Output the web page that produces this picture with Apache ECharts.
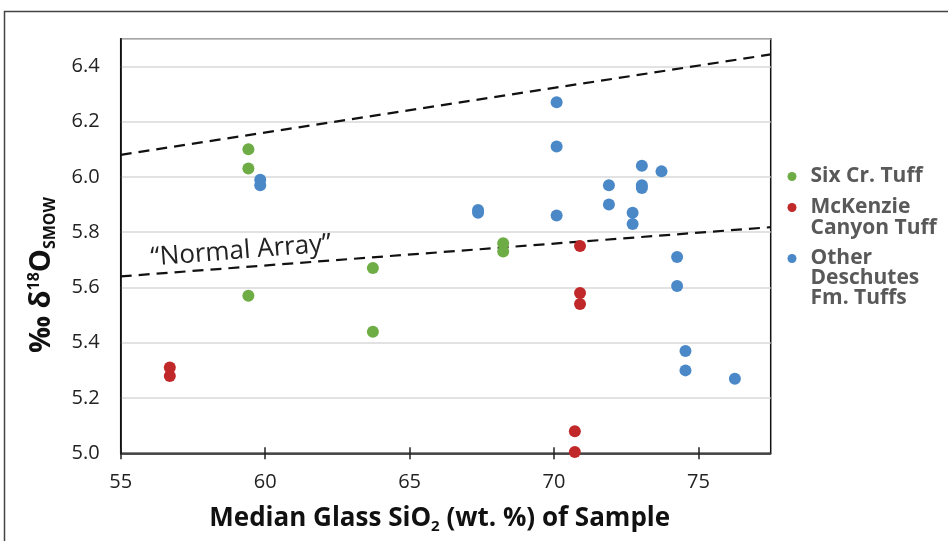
<!DOCTYPE html>
<html>
<head>
<meta charset="utf-8">
<script src="https://cdn.jsdelivr.net/npm/echarts@6/dist/echarts.min.js"></script>
<style>html,body{margin:0;padding:0;background:#fff;}#c{width:948px;height:541px;}</style>
</head>
<body>
<div id="c"></div>
<script>
// ---- data ----
const xTicks = [55, 60, 65, 70, 75];
const yTicks = [5.0, 5.2, 5.4, 5.6, 5.8, 6.0, 6.2, 6.4];
const seriesNames = ['Six Cr. Tuff', 'McKenzie Canyon Tuff', 'Other Deschutes Fm. Tuffs'];
const legendLines = [['Six Cr. Tuff'], ['McKenzie', 'Canyon Tuff'], ['Other', 'Deschutes', 'Fm. Tuffs']];
const sixCrTuff = [[59.42,6.10],[59.42,6.03],[59.42,5.57],[63.73,5.67],[63.73,5.44],[68.24,5.76],[68.24,5.73]];
const mcKenzieTuff = [[56.70,5.31],[56.70,5.28],[70.90,5.75],[70.90,5.58],[70.90,5.54],[70.72,5.08],[70.72,5.005]];
const otherTuffs = [[59.83,5.99],[59.83,5.97],[70.09,6.27],[70.09,6.11],[67.37,5.88],[67.37,5.87],[70.09,5.86],
  [71.90,5.97],[71.90,5.90],[73.04,6.04],[73.04,5.97],[73.04,5.96],[73.72,6.02],[72.72,5.87],[72.72,5.83],
  [74.26,5.71],[74.26,5.605],[74.55,5.37],[74.55,5.30],[76.26,5.27]];
const upperLine = [[55,6.08],[77.5,6.443]];
const normalArrayLine = [[55,5.64],[77.5,5.818]];

const colors = ['#6EAD45', '#C0282A', '#4A88C7'];
const chart = echarts.init(document.getElementById('c'));

function legendFor(i, top, lh) {
  const lines = legendLines[i];
  const blanks = [];
  for (let k = 1; k < lines.length; k++) blanks.push('{t| }');
  return {
    data: [{name: seriesNames[i], icon: 'circle'}],
    left: 787.5, top: top, padding: 0,
    itemWidth: 9, itemHeight: 9,
    selectedMode: false,
    formatter: () => blanks.concat(lines.map(l => '{t|' + l + '}')).join('\n'),
    textStyle: {
      rich: {t: {fontFamily: 'Open Sans', fontWeight: 'bold', fontSize: 21, color: '#595959',
                 lineHeight: lh, padding: [0, 0, 0, 9]}}
    }
  };
}

const option = {
  animation: false,
  grid: {left: 120.7, top: 38.7, right: 177.3, bottom: 87.7, show: true, borderColor: '#111', borderWidth: 1.5, backgroundColor: 'transparent'},
  legend: [legendFor(0, 166, 21), legendFor(1, 176, 21), legendFor(2, 208, 20)],
  xAxis: [{
    type: 'value', min: 55, max: 77.5, interval: 5,
    axisLine: {lineStyle: {color: '#222', width: 1.5}},
    axisTick: {show: true, length: 6, customValues: xTicks, lineStyle: {color: '#222', width: 1.5}},
    axisLabel: {customValues: xTicks, margin: 19, fontFamily: 'Open Sans', fontSize: 20, color: '#222'},
    splitLine: {show: false},
    name: '{a|Median Glass SiO}{s|2}{a| (wt. %) of Sample}',
    nameLocation: 'middle', nameGap: 49,
    nameTextStyle: {padding: [0, 12, 0, 0], rich: {
      a: {fontFamily: 'Open Sans', fontWeight: 'bold', fontSize: 26, color: '#111', lineHeight: 32},
      s: {fontFamily: 'Open Sans', fontWeight: 'bold', fontSize: 15, color: '#111', lineHeight: 32, padding: [16, 0, 0, 0]}
    }}
  }, {
    type: 'value', min: 55, max: 77.5, interval: 5, position: 'bottom',
    axisLine: {show: false},
    axisTick: {show: true, inside: true, length: 6, customValues: xTicks, lineStyle: {color: '#222', width: 1.5}},
    axisLabel: {show: false},
    splitLine: {show: false}
  }],
  yAxis: {
    type: 'value', min: 5.0, max: 6.5, interval: 0.2,
    axisLine: {show: true, lineStyle: {color: '#111', width: 1.5}},
    axisTick: {show: false},
    axisLabel: {customValues: yTicks, formatter: v => v.toFixed(1), margin: 21, fontFamily: 'Open Sans', fontSize: 20, color: '#222'},
    splitLine: {show: true, lineStyle: {color: '#d9d9d9', width: 1.5}}
  },
  series: [
    {type: 'line', data: upperLine, symbol: 'none', silent: true, z: 1,
     lineStyle: {color: '#111', width: 2.2, type: [11, 7]}},
    {type: 'line', data: normalArrayLine, symbol: 'none', silent: true, z: 1,
     lineStyle: {color: '#111', width: 2.2, type: [11, 7]}},
    {type: 'scatter', name: seriesNames[0], data: sixCrTuff, symbolSize: 12, itemStyle: {color: colors[0], opacity: 1}, z: 3},
    {type: 'scatter', name: seriesNames[1], data: mcKenzieTuff, symbolSize: 12, itemStyle: {color: colors[1], opacity: 1}, z: 3},
    {type: 'scatter', name: seriesNames[2], data: otherTuffs, symbolSize: 12, itemStyle: {color: colors[2], opacity: 1}, z: 3}
  ],
  graphic: [
    {type: 'rect', shape: {x: 4.5, y: 11.5, width: 1000, height: 600}, style: {fill: 'none', stroke: '#444', lineWidth: 1.5}, silent: true, z: -1},
    {type: 'text', x: 241, y: 251, rotation: 0.078, silent: true,
     style: {text: '\u201CNormal Array\u201D', fontFamily: 'Open Sans', fontSize: 26, fill: '#222', align: 'center', verticalAlign: 'middle'}},
    {type: 'text', x: 42, y: 275, rotation: Math.PI / 2, silent: true,
     style: {text: '{a|\u2030 \u03B4}{p|18}{a|O}{b|SMOW}', align: 'center', verticalAlign: 'middle',
       rich: {
         a: {fontFamily: 'Open Sans', fontWeight: 'bold', fontSize: 29, fill: '#111', lineHeight: 40},
         p: {fontFamily: 'Open Sans', fontWeight: 'bold', fontSize: 16, fill: '#111', lineHeight: 40, padding: [0, 0, 16, 0]},
         b: {fontFamily: 'Open Sans', fontWeight: 'bold', fontSize: 16, fill: '#111', lineHeight: 40, padding: [16, 0, 0, 0]}
       }}}
  ]
};
chart.setOption(option);
</script>
</body>
</html>
